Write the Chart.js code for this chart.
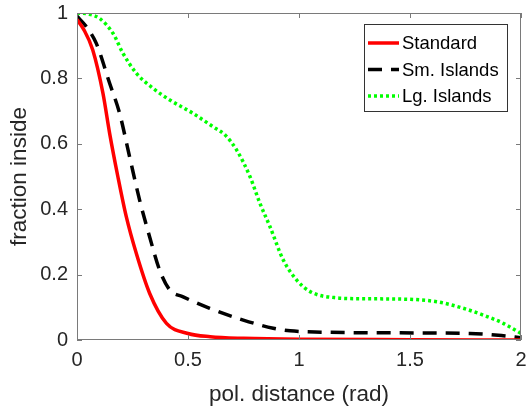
<!DOCTYPE html>
<html>
<head>
<meta charset="utf-8">
<script src="https://cdn.jsdelivr.net/npm/chart.js@4/dist/chart.umd.min.js"></script>
<style>
  html, body { margin: 0; padding: 0; background: #fff; }
  #wrap { width: 526px; height: 412px; }
</style>
</head>
<body>
<div id="wrap"><canvas id="chart" width="526" height="412"></canvas></div>
<script>
// data
const stdX = [0, 0.03, 0.071, 0.117, 0.147, 0.184, 0.222, 0.267, 0.327, 0.403, 0.5, 0.6, 0.75, 1.0, 1.5, 2.0];
const stdY = [0.98, 0.95, 0.887, 0.754, 0.632, 0.5, 0.377, 0.265, 0.143, 0.051, 0.02, 0.01, 0.005, 0.002, 0.001, 0.0];

const smX = [0, 0.04, 0.087, 0.147, 0.192, 0.237, 0.282, 0.327, 0.372, 0.418, 0.478, 0.598, 0.749, 0.884, 0.96, 1.1, 1.4, 1.77, 1.92, 2.0];
const smY = [0.99, 0.96, 0.907, 0.785, 0.693, 0.56, 0.428, 0.316, 0.214, 0.153, 0.132, 0.097, 0.061, 0.036, 0.028, 0.024, 0.022, 0.02, 0.013, 0.007];

const lgX = [0, 0.05, 0.1, 0.162, 0.207, 0.267, 0.342, 0.418, 0.523, 0.613, 0.67, 0.72, 0.779, 0.824, 0.869, 0.929, 0.99, 1.05, 1.17, 1.3, 1.47, 1.62, 1.74, 1.85, 1.92, 2.0];
const lgY = [1.0, 0.997, 0.984, 0.938, 0.877, 0.816, 0.77, 0.734, 0.693, 0.652, 0.625, 0.58, 0.5, 0.418, 0.347, 0.245, 0.183, 0.148, 0.129, 0.126, 0.125, 0.117, 0.097, 0.071, 0.051, 0.02];

const seriesNames = ["Standard", "Sm. Islands", "Lg. Islands"];
const xTicks = [0, 0.5, 1, 1.5, 2];
const yTicks = [0, 0.2, 0.4, 0.6, 0.8, 1];

const FONT = "'Liberation Sans', Arial, sans-serif";
const TXT = "#262626";
const AXIS = "#7a7a7a";

function pts(xs, ys) {
  return xs.map((x, i) => ({ x: x, y: ys[i] }));
}

// box + inward ticks like matlab, and a boxed legend
const matlabAxes = {
  id: "matlabAxes",
  afterDatasetsDraw(chart) {
    const ctx = chart.ctx;
    const a = chart.chartArea;
    const xs = chart.scales.x;
    const ys = chart.scales.y;
    ctx.save();
    ctx.strokeStyle = AXIS;
    ctx.lineWidth = 1;
    ctx.strokeRect(a.left + 0.5, a.top + 0.5, a.right - a.left - 1, a.bottom - a.top - 1);
    ctx.beginPath();
    xTicks.forEach((v) => {
      const px = Math.round(xs.getPixelForValue(v)) + 0.5;
      ctx.moveTo(px, a.bottom); ctx.lineTo(px, a.bottom - 5);
      ctx.moveTo(px, a.top); ctx.lineTo(px, a.top + 5);
    });
    yTicks.forEach((v) => {
      const py = Math.round(ys.getPixelForValue(v)) + 0.5;
      ctx.moveTo(a.left, py); ctx.lineTo(a.left + 5, py);
      ctx.moveTo(a.right, py); ctx.lineTo(a.right - 5, py);
    });
    ctx.stroke();

    // legend
    const lx = 364, ly = 24, lw = 143, lh = 87;
    ctx.fillStyle = "#fff";
    ctx.fillRect(lx, ly, lw, lh);
    ctx.strokeStyle = "#333";
    ctx.strokeRect(lx + 0.5, ly + 0.5, lw, lh);
    ctx.font = "18.5px " + FONT;
    ctx.textBaseline = "middle";
    chart.data.datasets.forEach((ds, i) => {
      const y = ly + 19 + i * 26.5;
      ctx.beginPath();
      ctx.strokeStyle = ds.borderColor;
      ctx.lineWidth = ds.borderWidth;
      ctx.setLineDash(ds.borderDash || []);
      ctx.moveTo(lx + 4, y);
      ctx.lineTo(lx + 35, y);
      ctx.stroke();
      ctx.setLineDash([]);
      ctx.fillStyle = "#000";
      ctx.fillText(ds.label, lx + 38, y + 1);
    });
    ctx.restore();
  },
};

const ctx = document.getElementById("chart").getContext("2d");
new Chart(ctx, {
  type: "line",
  data: {
    datasets: [
      {
        label: seriesNames[0],
        data: pts(stdX, stdY),
        borderColor: "#ff0000",
        borderWidth: 3.5,
        cubicInterpolationMode: "monotone",
        pointRadius: 0,
        fill: false,
      },
      {
        label: seriesNames[1],
        data: pts(smX, smY),
        borderColor: "#000000",
        borderWidth: 3.5,
        borderDash: [14, 9],
        cubicInterpolationMode: "monotone",
        pointRadius: 0,
        fill: false,
      },
      {
        label: seriesNames[2],
        data: pts(lgX, lgY),
        borderColor: "#00ff00",
        borderWidth: 3.5,
        borderDash: [3, 3],
        cubicInterpolationMode: "monotone",
        pointRadius: 0,
        fill: false,
      },
    ],
  },
  options: {
    responsive: false,
    animation: false,
    layout: { padding: { top: 13, right: 5, left: 0, bottom: 0 } },
    plugins: { legend: { display: false }, tooltip: { enabled: false } },
    scales: {
      x: {
        type: "linear",
        min: 0,
        max: 2,
        afterBuildTicks: (s) => { s.ticks = xTicks.map((v) => ({ value: v })); },
        afterFit: (s) => { s.height = 72; s.paddingRight = 0; s.paddingLeft = 0; },
        grid: { display: false, drawTicks: false },
        border: { display: false },
        ticks: { color: TXT, font: { family: FONT, size: 20 }, padding: 8, maxRotation: 0, callback: (v) => String(v) },
        title: { display: true, text: "pol. distance (rad)", color: TXT, font: { family: FONT, size: 22.5 }, padding: { top: 4 } },
      },
      y: {
        min: 0,
        max: 1,
        afterBuildTicks: (s) => { s.ticks = yTicks.map((v) => ({ value: v })); },
        afterFit: (s) => { s.width = 77; s.paddingTop = 0; s.paddingBottom = 0; },
        grid: { display: false, drawTicks: false },
        border: { display: false },
        ticks: { color: TXT, font: { family: FONT, size: 20 }, padding: 9, callback: (v) => String(v) },
        title: { display: true, text: "fraction inside", color: TXT, font: { family: FONT, size: 22.5 }, padding: { top: 6, bottom: 0 } },
      },
    },
  },
  plugins: [matlabAxes],
});
</script>
</body>
</html>
